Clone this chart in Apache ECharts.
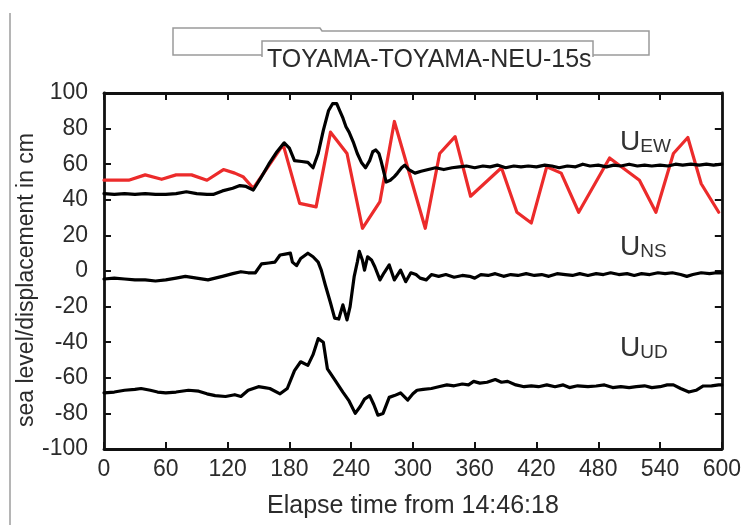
<!DOCTYPE html>
<html>
<head>
<meta charset="utf-8">
<script src="https://cdn.jsdelivr.net/npm/echarts@6/dist/echarts.min.js"></script>
<style>
  html, body { margin: 0; padding: 0; background: #fff; }
  #chart { width: 744px; height: 525px; }
</style>
</head>
<body>
<div id="chart"></div>
<script>
// Station record: Toyama, 15 s sampling. Time in seconds after 14:46:18.
const titleText = 'TOYAMA-TOYAMA-NEU-15s';
const xTicks = [0, 60, 120, 180, 240, 300, 360, 420, 480, 540, 600];
const yTicks = [-100, -80, -60, -40, -20, 0, 20, 40, 60, 80, 100];

// Sea level (tide gauge), red
const seaLevel = [
  [0,51],[24,51],[40,54],[56,51.5],[70,54],[85,54],[100,51],[116,57],[127,55],[135,53],
  [145,46.5],[174,71],[190,38],[198,37],[206,36],[220,78],[236,66],[251,24],[268,39],[282,84],
  [312,24],[326,66],[341,75.5],[356,42],[386,58],[401,33],[415,27],[430,58.6],[444,55],[461,33],
  [491,63.5],[520,51],[536,33],[553,66],[567,75],[580,49],[597,33]
];

// East-west displacement
const uEW = [
  [0,43.5],[10,43],[20,43.5],[30,43],[40,43.5],[50,43],[60,43],[70,43.5],[80,44.5],[90,43.5],
  [100,43],[106,43],[115,45],[125,46.5],[132,48],[138,47.5],[145,45.5],[152,52],[160,60],[168,67],
  [175,72],[180,69],[185,62],[192,61.5],[198,61],[203,58],[208,66],[213,79],[218,90],[222,94],
  [226,94],[229,90],[232,86],[235,81],[238,78],[242,72.6],[246,66],[250,61],[254,58],[258,62],
  [261,67],[264,68],[267,66],[269,62],[272,55],[274,50],[278,51],[282,53],[285,55],[289,58],
  [292,59.5],[296,57],[302,55],[308,56],[315,57],[322,58],[330,57],[338,58],[345,58.5],[352,59],
  [360,58],[368,59],[375,58.5],[382,59.5],[390,58],[398,59],[405,58.5],[412,59],[420,58.5],[428,59.5],
  [435,59],[442,58],[450,59],[458,58.5],[465,60],[472,59],[480,59.5],[488,58.5],[495,59.5],[502,59],
  [510,60],[518,59],[525,59.5],[532,59],[540,59.5],[548,59],[555,60],[562,59.5],[570,60],[578,59.5],
  [585,60],[592,59.5],[600,60]
];

// North-south displacement
const uNS = [
  [0,-4.5],[10,-4],[20,-4.5],[30,-5],[40,-5],[50,-5.6],[60,-5],[70,-4],[79,-3],[90,-4],
  [101,-5],[108,-4],[115,-3],[125,-1.5],[133,-0.4],[140,-1],[147,-1],[153,4],[160,4.5],[166,5],
  [171,9],[176,9.5],[181,10],[183,5],[187,3],[191,7],[198,10],[203,8],[208,5],[211,0.5],
  [215,-8],[220,-18],[224,-26.5],[228,-27],[232,-19],[236,-27.5],[239,-20],[243,-3],[246,5],[248,11],
  [251,6],[253,0.5],[256,8],[260,6],[263,2.4],[268,-5],[272,-1],[277,3.4],[282,-5],[288,0.5],
  [293,-6],[298,-1],[303,-2],[307,-4],[313,-5],[318,-2],[325,-3],[332,-2],[340,-3.5],[348,-2.5],
  [355,-3],[360,-4],[366,-2],[373,-2.5],[380,-1.5],[388,-3],[395,-2],[402,-2.5],[410,-1.5],[418,-2.5],
  [425,-2],[432,-3],[440,-1.5],[448,-2],[455,-2.5],[462,-1.5],[470,-2.5],[478,-1.5],[485,-2],[492,-1],
  [500,-2],[508,-1.5],[515,-2.5],[522,-1.5],[530,-2],[538,-1],[545,-1.5],[552,-1],[560,-2],[566,-3],
  [572,-2],[580,-1],[588,-1.5],[595,-1],[600,-1]
];

// Up-down displacement
const uUD = [
  [0,-68.5],[10,-68],[20,-67],[30,-66.5],[36,-66],[45,-67],[52,-68],[60,-68.5],[70,-68],[82,-67],
  [92,-67.5],[100,-69],[108,-70],[118,-70.5],[127,-69.5],[133,-70.5],[140,-67],[150,-65],[156,-65.5],[161,-66],
  [171,-69],[178,-66],[185,-56],[191,-51],[198,-53],[203,-47],[208,-38],[213,-40],[217,-55],[224,-61],
  [232,-68],[238,-73],[244,-80],[249,-76],[253,-72],[258,-70],[262,-75],[266,-81],[271,-80],[277,-71],
  [282,-70],[288,-68.5],[295,-72.5],[300,-69],[304,-67],[310,-66.5],[318,-66],[325,-65],[333,-64],[340,-64.5],
  [348,-63.5],[354,-64],[359,-62],[365,-63],[372,-62.5],[380,-61],[386,-62.5],[392,-62],[400,-64],[408,-65],
  [415,-64.5],[422,-65],[430,-64],[438,-65],[446,-64],[452,-65.5],[460,-64.5],[470,-65],[478,-64.6],[486,-64],
  [494,-65.5],[502,-65],[510,-65.5],[517,-65],[525,-64.5],[532,-65.5],[540,-65],[547,-64],[553,-64],[560,-66],
  [568,-68],[575,-67],[582,-64.6],[590,-64.5],[597,-64],[600,-64]
];

const FONT = 'Liberation Sans, Arial, Helvetica, sans-serif';
const TEXT = '#2b2b2b';
const FRAME = '#111';

const chart = echarts.init(document.getElementById('chart'), null, { renderer: 'canvas' });

function xAxisDef(pos, showLabel) {
  return {
    type: 'value', position: pos, min: xTicks[0], max: xTicks[xTicks.length - 1],
    interval: xTicks[1] - xTicks[0],
    axisLine: { show: true, onZero: false, lineStyle: { color: FRAME, width: 2.8 } },
    axisTick: { show: true, inside: true, length: 7, lineStyle: { color: FRAME, width: 2 } },
    axisLabel: { show: showLabel, color: TEXT, fontFamily: FONT, fontSize: 23, margin: 9 },
    splitLine: { show: false }
  };
}
function yAxisDef(pos, showLabel) {
  return {
    type: 'value', position: pos, min: yTicks[0], max: yTicks[yTicks.length - 1],
    interval: yTicks[1] - yTicks[0],
    axisLine: { show: true, onZero: false, lineStyle: { color: FRAME, width: 2.8 } },
    axisTick: { show: true, inside: true, length: 7, lineStyle: { color: FRAME, width: 2 } },
    axisLabel: { show: showLabel, color: TEXT, fontFamily: FONT, fontSize: 23, margin: 16 },
    splitLine: { show: false }
  };
}

const xBottom = xAxisDef('bottom', true);
xBottom.name = 'Elapse time from 14:46:18';
xBottom.nameLocation = 'middle';
xBottom.nameGap = 45;
xBottom.nameTextStyle = { color: TEXT, fontFamily: FONT, fontSize: 25 };

const yLeft = yAxisDef('left', true);
yLeft.name = 'sea level/displacement in cm';
yLeft.nameLocation = 'middle';
yLeft.nameGap = 66;
yLeft.nameMoveOverlap = false;
yLeft.nameTextStyle = { color: TEXT, fontFamily: FONT, fontSize: 23, padding: [0, 18, 0, 0] };

function lineSeries(name, data, color) {
  return {
    name, type: 'line', data, xAxisIndex: 0, yAxisIndex: 0,
    showSymbol: false, symbol: 'none', smooth: false, animation: false,
    lineStyle: { color, width: 3.2, join: 'round', cap: 'round' },
    z: color === '#000' ? 3 : 2
  };
}

function compLabel(x, y, sub) {
  return {
    type: 'text', x, y, z: 20,
    style: {
      text: '{u|U}{s|' + sub + '}',
      fill: '#333',
      verticalAlign: 'bottom',
      rich: {
        u: { fontFamily: FONT, fontSize: 28, fill: '#333', verticalAlign: 'bottom', lineHeight: 28 },
        s: { fontFamily: FONT, fontSize: 19, fill: '#333', verticalAlign: 'bottom', lineHeight: 28 }
      }
    }
  };
}

chart.setOption({
  backgroundColor: '#fff',
  animation: false,
  title: {
    text: titleText, left: 262, top: 43,
    textStyle: { color: TEXT, fontFamily: FONT, fontSize: 25, fontWeight: 'normal' }
  },
  grid: { left: 104, right: 18, top: 93, bottom: 76, containLabel: false },
  xAxis: [xBottom, xAxisDef('top', false)],
  yAxis: [yLeft, yAxisDef('right', false)],
  series: [
    lineSeries('Sea level', seaLevel, '#ec2b2b'),
    lineSeries('UEW', uEW, '#000'),
    lineSeries('UNS', uNS, '#000'),
    lineSeries('UUD', uUD, '#000')
  ],
  graphic: [
    // page edge rule on the left
    { type: 'line', shape: { x1: 10, y1: 13, x2: 10, y2: 525 }, style: { stroke: '#b5b5b5', lineWidth: 2 } },
    // key frame behind the title
    { type: 'polyline', z: 1, shape: { points: [[262, 55], [173, 55], [173, 28], [320, 28], [322, 31], [649, 31], [649, 55], [593, 55]] },
      style: { stroke: '#9a9a9a', lineWidth: 1.5, fill: null } },
    { type: 'polyline', z: 1, shape: { points: [[262, 57], [262, 41], [593, 41], [593, 57]] },
      style: { stroke: '#9a9a9a', lineWidth: 1.5, fill: null } },
    compLabel(620, 156, 'EW'),
    compLabel(620, 261, 'NS'),
    compLabel(620, 362, 'UD')
  ]
});
</script>
</body>
</html>
